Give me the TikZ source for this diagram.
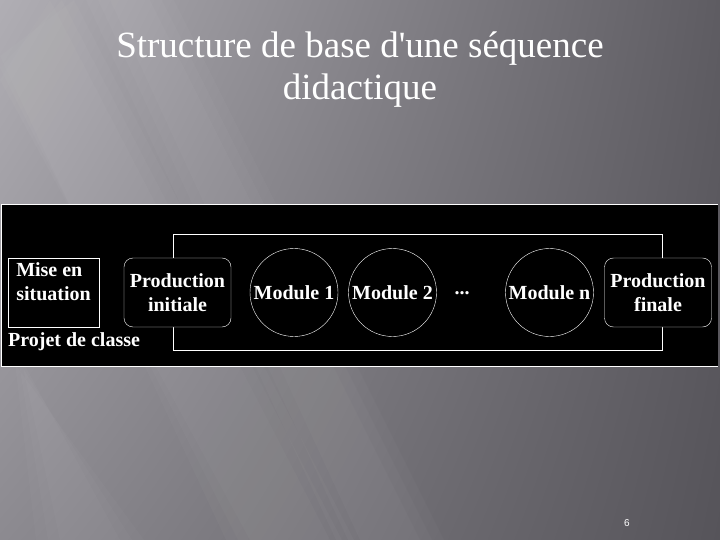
\documentclass[tikz,border=0pt]{standalone}
\usepackage{fontspec}
\setmainfont{Liberation Serif}
\setsansfont{Liberation Sans}
\usetikzlibrary{positioning}
\usetikzlibrary{shadings}

\definecolor{fondHG}{RGB}{176,174,180}
\definecolor{fondHD}{RGB}{94,92,98}
\definecolor{fondBG}{RGB}{140,138,144}
\definecolor{fondBD}{RGB}{86,84,90}

\begin{document}
\begin{tikzpicture}[x=1pt,y=-1pt,
		etape/.style={draw=white, fill=black, text=white, align=center, inner sep=0pt,
			font=\bfseries\fontsize{20}{24}\selectfont},
		boite/.style={etape, minimum width=91pt, minimum height=69pt},
		prod/.style={etape, rounded corners=9pt, minimum width=107pt, minimum height=69pt},
		module/.style={etape, circle, minimum size=88pt},
		reflet/.style={white, opacity=0.025}]
		
		% fond de la diapositive
		\shade[upper left=fondHG, upper right=fondHD, lower left=fondBG, lower right=fondBD] (0,0) rectangle (720,540);
		\foreach \w in {0,12,24}{
			\fill[reflet] (0,80-\w) -- (50+\w,0) -- (330+\w,540) -- (250-\w,540) -- cycle;
			\fill[reflet] (110-\w,0) -- (150+\w,0) -- (420+\w,540) -- (360-\w,540) -- cycle;
			\fill[reflet] (0,260-\w) -- (0,320+\w) -- (120+\w,540) -- (60-\w,540) -- cycle;
		}
		
		% titre
		\node (titre) at (360,100)[anchor=base, align=center, text=white, font=\fontsize{37}{42}\selectfont]
			{Structure de base d\textquotesingle une séquence\\didactique};
		
		% bandeau noir
		\fill[black] (1,204) rectangle (718,366);
		\draw[white] (1,204.5) -- (718,204.5);
		\draw[white] (1,366) -- (718,366);
		\draw[white] (1,204.5) -- (1,366);
		
		% cadre des modules
		\draw[white] (173,234) rectangle (662,350);
		
		\node (mise) at (53.5,292.5)[boite, align=left, text height=37pt, text depth=22pt] {Mise en\\situation};
		\node (pinit) at (177.5,292.5)[prod] {Production\\initiale};
		\node (mod1) at (294,292.5)[module] {Module 1};
		\node (mod2) at (392.5,292.5)[module] {Module 2};
		\node (points) at (462,294)[anchor=base, text=white, font=\bfseries\fontsize{20}{24}\selectfont] {...};
		\node (modn) at (549.5,292.5)[module] {Module n};
		\node (pfin) at (658,292.5)[prod] {Production\\finale};
		
		\node (projet) at (8,342)[anchor=west, text=white, inner sep=0pt, font=\bfseries\fontsize{20}{24}\selectfont] {Projet de classe};
		
		% numero de page
		\node (page) at (627,523)[text=white, font=\sffamily\fontsize{10}{12}\selectfont] {6};
		
	\end{tikzpicture}
\end{document}
